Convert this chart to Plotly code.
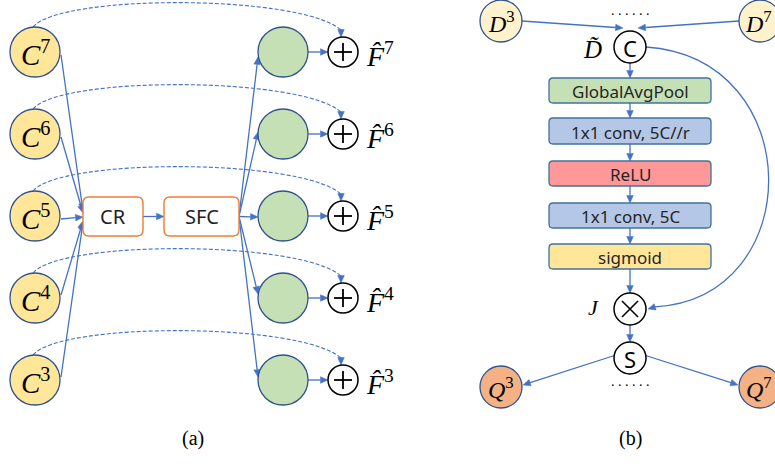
import math
import plotly.graph_objects as go

# ---------------- data ----------------
levels = [7, 6, 5, 4, 3]                      # pyramid levels in panel (a)
fusion_blocks = ["CR", "SFC"]                 # blocks in panel (a)
pipeline_labels = ["GlobalAvgPool", "1x1 conv, 5C//r", "ReLU", "1x1 conv, 5C", "sigmoid"]
side_levels = [3, 7]                          # D / Q levels shown in panel (b)
captions = ["(a)", "(b)"]

# ---------------- style ----------------
BLUE = "#4472C4"
pipeline_fill = ["#C5E0B4", "#B4C7E7", "#FF9999", "#B4C7E7", "#FFE699"]
W, H = 775, 464

shapes, ann = [], []


def circle(cx, cy, r, fill, line="#2F528F", lw=1.3):
    shapes.append(dict(type="circle", xref="x", yref="y", x0=cx - r, x1=cx + r, y0=cy - r, y1=cy + r,
                       fillcolor=fill, line=dict(color=line, width=lw), layer="above"))


def line(x0, y0, x1, y1, color=BLUE, w=1.3, dash="solid"):
    shapes.append(dict(type="line", xref="x", yref="y", x0=x0, y0=y0, x1=x1, y1=y1,
                       line=dict(color=color, width=w, dash=dash), layer="above"))


def path(p, color=BLUE, w=1.3, dash="solid", fill="rgba(0,0,0,0)"):
    shapes.append(dict(type="path", xref="x", yref="y", path=p, fillcolor=fill,
                       line=dict(color=color, width=w, dash=dash), layer="above"))


def rrect(x0, y0, x1, y1, r, fill, edge, lw=1.3):
    p = (f"M {x0+r},{y0} L {x1-r},{y0} Q {x1},{y0} {x1},{y0+r} L {x1},{y1-r} Q {x1},{y1} {x1-r},{y1} "
         f"L {x0+r},{y1} Q {x0},{y1} {x0},{y1-r} L {x0},{y0+r} Q {x0},{y0} {x0+r},{y0} Z")
    path(p, color=edge, w=lw, fill=fill)


def head(x0, y0, x1, y1, L=7.5, hw=3.3, color=BLUE):
    d = math.hypot(x1 - x0, y1 - y0)
    ux, uy = (x1 - x0) / d, (y1 - y0) / d
    bx, by = x1 - L * ux, y1 - L * uy
    nx, ny = -uy, ux
    p = (f"M {x1},{y1} L {bx + hw*nx:.2f},{by + hw*ny:.2f} "
         f"L {bx - hw*nx:.2f},{by - hw*ny:.2f} Z")
    shapes.append(dict(type="path", xref="x", yref="y", path=p, fillcolor=color,
                       line=dict(color=color, width=0.5), layer="above"))
    return bx, by


def arrow(x0, y0, x1, y1, color=BLUE, w=1.3):
    bx, by = head(x0, y0, x1, y1, color=color)
    line(x0, y0, bx, by, color=color, w=w)


def text(x, y, t, size, family="Liberation Serif", color="#000", xanchor="center"):
    ann.append(dict(x=x, y=y, xref="x", yref="y", text=t, showarrow=False, xanchor=xanchor,
                    yanchor="middle", font=dict(size=size, family=family, color=color)))


# ================= panel (a) =================
row_y = [52 + 82 * i for i in range(len(levels))]
cx_c, r_c = 35, 25
cx_g, cx_p, r_p = 283, 343, 15
box_y0, box_y1 = 197, 236
box_mid = (box_y0 + box_y1) / 2
boxes_x = [(83, 143), (164, 239)]
merge_tips = [211, 213, 217, 221, 222]
split_tips = [57, 132, 217, 294, 377]

# dashed skip connections
for y in row_y:
    path(f"M {cx_c-2},{y-25} C 60,{y-58} 300,{y-58} {cx_p-2},{y-22}", dash="4px,2px", w=1.1)
    head(cx_p - 2, y - 24, cx_p - 2, y - 15)

# C -> CR
for y, tip in zip(row_y, merge_tips):
    arrow(cx_c + 26, y + (3 if y < box_mid else (-3 if y > box_mid else 0)), boxes_x[0][0], tip)
# CR -> SFC
arrow(boxes_x[0][1], box_mid, boxes_x[1][0], box_mid)
# SFC -> green
for y, tip in zip(row_y, split_tips):
    arrow(boxes_x[1][1], box_mid, cx_g - 25, tip)
# green -> plus
for y in row_y:
    arrow(cx_g + 25, y, cx_p - r_p, y)

for (x0, x1), lab in zip(boxes_x, fusion_blocks):
    rrect(x0, box_y0, x1, box_y1, 6, "white", "#ED7D31", 1.4)
    text((x0 + x1) / 2, box_mid, lab, 20, family="Noto Sans", color="#222")

for y, lv in zip(row_y, levels):
    circle(cx_c, y, r_c, "#FFE699")
    text(cx_c, y + 1, f"<i>C</i><sup>{lv}</sup>", 29)
    circle(cx_g, y, 25, "#C5E0B4")
    circle(cx_p, y, r_p, "white", line="#000", lw=1.5)
    line(cx_p - 9, y, cx_p + 9, y, color="#000", w=1.8)
    line(cx_p, y - 9, cx_p, y + 9, color="#000", w=1.8)
    text(364, y + 2, f"<i>F\u0302</i><sup>{lv}</sup>", 28, xanchor="left")

# ================= panel (b) =================
cx = 630
r_s = 16
pb_y = [(78, 103), (118, 144), (161, 186), (203, 228), (244, 269)]
bx0, bx1 = 549, 711
cy_c, cy_m, cy_s = 47, 309, 358
side_x = [501, 760]
cy_d, cy_q, r_d = 21, 387, 21

# D -> concat
arrow(side_x[0] + r_d, cy_d, cx - 7, 28)
arrow(side_x[1] - r_d, cy_d, cx + 8, 28)
text(cx, 10, ". . . . . .", 14)

# vertical chain
arrow(cx, cy_c + r_s, cx, pb_y[0][0])
for (a, b), (c, d) in zip(pb_y[:-1], pb_y[1:]):
    arrow(cx, b, cx, c)
arrow(cx, pb_y[-1][1], cx, cy_m - r_s)
arrow(cx, cy_m + r_s, cx, cy_s - r_s)

# big bypass curve
path(f"M {cx+r_s},{cy_c} C 808,58 808,298 {cx+25},{cy_m-2.2}", w=1.3)
head(cx + 28, cy_m - 3, cx + r_s + 2, cy_m)

# S -> Q
arrow(cx - 14, cy_s - 3, side_x[0] + r_d + 1, cy_q - 2)
arrow(cx + 14, cy_s - 3, side_x[1] - r_d - 1, cy_q - 2)
text(cx, 381, ". . . . . .", 14)

for (y0, y1), lab, f in zip(pb_y, pipeline_labels, pipeline_fill):
    rrect(bx0, y0, bx1, y1, 4, f, "#41719C", 1.3)
    text(cx, (y0 + y1) / 2 + 1, lab, 17, family="Noto Sans", color="#262626")

for i, (x, lv) in enumerate(zip(side_x, side_levels)):
    circle(x, cy_d, r_d, "#FFF2CC")
    circle(x, cy_q, r_d, "#F4B183")
    if i == 0:
        text(x, cy_d + 1, f"<i>D</i><sup>{lv}</sup>", 24)
        text(x, cy_q + 1, f"<i>Q</i><sup>{lv}</sup>", 24)
    else:
        text(774, cy_d + 1, f"<i>D</i><sup>{lv}</sup>", 24, xanchor="right")
        text(774, cy_q + 1, f"<i>Q</i><sup>{lv}</sup>", 24, xanchor="right")

circle(cx, cy_c, r_s, "white", line="#000", lw=1.5)
text(cx, cy_c + 1, "C", 22, family="Noto Sans", color="#000")
text(592, cy_c + 2, "<i>D\u0303</i>", 25)

circle(cx, cy_m, r_s, "white", line="#000", lw=1.5)
line(cx - 8, cy_m - 8, cx + 8, cy_m + 8, color="#000", w=1.6)
line(cx - 8, cy_m + 8, cx + 8, cy_m - 8, color="#000", w=1.6)
text(593, cy_m - 2, "<i>J</i>", 22)

circle(cx, cy_s, r_s, "white", line="#000", lw=1.5)
text(cx, cy_s + 1, "S", 22, family="Noto Sans", color="#000")

# captions
for x, c in zip([193, 630], captions):
    text(x, 438, c, 20)

fig = go.Figure()
fig.add_trace(go.Scatter(x=[0, W], y=[0, H], mode="markers", marker=dict(opacity=0), hoverinfo="skip",
                         showlegend=False))
fig.update_layout(
    width=W, height=H, autosize=False,
    margin=dict(l=0, r=0, t=0, b=0),
    paper_bgcolor="white", plot_bgcolor="white",
    xaxis=dict(range=[0, W], visible=False, fixedrange=True),
    yaxis=dict(range=[H, 0], visible=False, fixedrange=True),
    shapes=shapes, annotations=ann, showlegend=False,
)
fig.write_html("out.html", config={"displayModeBar": False},
               post_script="document.body.style.margin='0';document.body.style.overflow='hidden';")
